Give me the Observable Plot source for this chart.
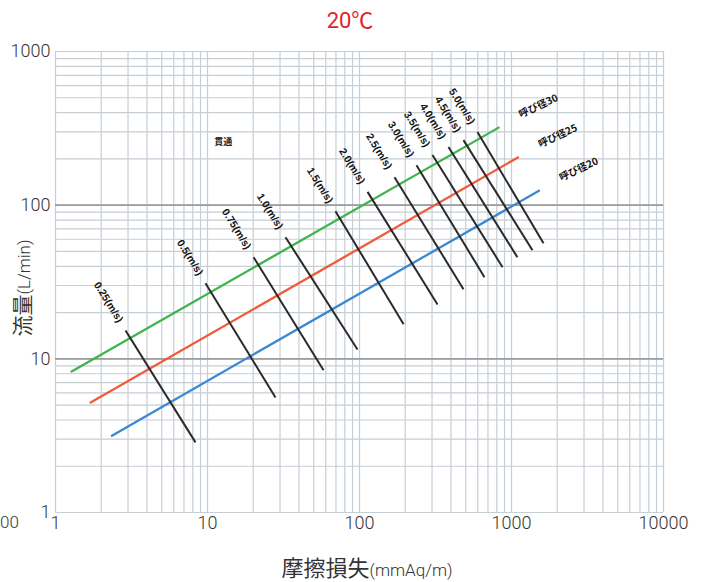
<!DOCTYPE html>
<html>
<head>
<meta charset="utf-8">
<script src="https://cdn.jsdelivr.net/npm/d3@7"></script>
<script src="https://cdn.jsdelivr.net/npm/@observablehq/plot@0.6"></script>
<style>
  body { margin: 0; background: #fff; }
  #chart { position: relative; width: 706px; height: 582px; overflow: hidden; }
</style>
</head>
<body>
<div id="chart"></div>
<script>
// Pipe sizes: flow (L/min) against friction loss (mmAq/m), at 20℃
const pipeNames  = ["呼び径30", "呼び径25", "呼び径20"];
const pipeColors = ["#3cb44b", "#f15a3a", "#3b87d3"];
const pipeLossStart = [1.26, 1.68, 2.32];
const pipeFlowStart = [8.2, 5.15, 3.14];
const pipeLossEnd   = [834, 1117, 1535];
const pipeFlowEnd   = [322, 206, 125];

// Constant-velocity lines
const velocityNames = ["0.25(m/s)", "0.5(m/s)", "0.75(m/s)", "1.0(m/s)", "1.5(m/s)", "2.0(m/s)",
                       "2.5(m/s)", "3.0(m/s)", "3.5(m/s)", "4.0(m/s)", "4.5(m/s)", "5.0(m/s)"];
const velLossTop    = [2.89, 9.7, 20.1, 32.6, 69.5, 113, 170, 237, 302, 385, 483, 597];
const velFlowTop    = [15.3, 31.0, 45.8, 61.9, 91.4, 122, 152, 182, 212, 239, 265, 299];
const velLossBottom = [8.34, 28.0, 58.0, 97.0, 195, 326, 483, 664, 873, 1094, 1374, 1624];
const velFlowBottom = [2.86, 5.61, 8.42, 11.5, 16.8, 22.6, 28.4, 34.0, 39.5, 45.8, 50.9, 56.5];

// Note inside the plot area
const noteText = ["貫通"];
const noteLoss = [12.7];
const noteFlow = [257];

// Axis ticks and log grid
const xTickValues = [1, 10, 100, 1000, 10000];
const yTickValues = [1, 10, 100, 1000];
const gridSteps = [1, 2, 3, 4, 5, 6, 7, 8, 9];
const xGrid = [1, 10, 100, 1000].flatMap(d => gridSteps.map(s => d * s)).concat([10000]);
const yGrid = [1, 10, 100].flatMap(d => gridSteps.map(s => d * s)).concat([1000]);
const yMajor = [10, 100];

const pipes = pipeNames.map((name, i) => ({
  name, color: pipeColors[i],
  x1: pipeLossStart[i], y1: pipeFlowStart[i], x2: pipeLossEnd[i], y2: pipeFlowEnd[i]
}));
const velocities = velocityNames.map((name, i) => ({
  name, x1: velLossTop[i], y1: velFlowTop[i], x2: velLossBottom[i], y2: velFlowBottom[i]
}));
const notes = noteText.map((text, i) => ({ text, x: noteLoss[i], y: noteFlow[i] }));

const chart = Plot.plot({
  width: 706,
  height: 582,
  marginLeft: 55,
  marginRight: 43,
  marginTop: 51,
  marginBottom: 70,
  style: { fontFamily: "Roboto, 'Liberation Sans', sans-serif", fontSize: "18px", color: "#333", background: "#fff" },
  x: { type: "log", domain: [1, 10000], ticks: xTickValues, tickFormat: d => String(d), tickSize: 0, tickPadding: 4, label: null },
  y: { type: "log", domain: [1, 1000], ticks: yTickValues, tickFormat: d => String(d), tickSize: 0, tickPadding: 5, label: null },
  marks: [
    Plot.ruleX(xGrid, { x: d => d, stroke: "#c6ced6", strokeWidth: 1.2 }),
    Plot.ruleY(yGrid, { y: d => d, stroke: "#c6ced6", strokeWidth: 1.2 }),
    Plot.ruleY(yMajor, { y: d => d, stroke: "#9a9c9e", strokeWidth: 1.6 }),
    Plot.link(pipes, { x1: "x1", y1: "y1", x2: "x2", y2: "y2", stroke: d => d.color, strokeWidth: 2.3 }),
    Plot.link(velocities, { x1: "x1", y1: "y1", x2: "x2", y2: "y2", stroke: "#2a2a2a", strokeWidth: 2 }),
    Plot.text(velocities, {
      x: "x1", y: "y1", text: "name", rotate: 58, textAnchor: "end",
      dx: -5, dy: -9, fontSize: 10.5, fontWeight: "bold", fill: "#111",
      fontFamily: "'Liberation Sans', Arial, sans-serif"
    }),
    Plot.text(pipes, {
      x: "x2", y: "y2", text: "name", rotate: -25, textAnchor: "start",
      dx: 20, dy: -12, fontSize: 10, fontWeight: "bold", fill: "#111",
      fontFamily: "'Noto Sans CJK JP', sans-serif"
    }),
    Plot.text(notes, {
      x: "x", y: "y", text: "text", fontSize: 9, fontWeight: "bold", fill: "#222",
      fontFamily: "'Noto Sans CJK JP', sans-serif"
    })
  ]
});

document.getElementById("chart").appendChild(chart);

const svg = d3.select(chart);
svg.selectAll("[aria-label='x-axis'] text, [aria-label='y-axis'] text, [aria-label='x-axis tick label'] text, [aria-label='y-axis tick label'] text")
  .style("font-weight", 300);

// Title
svg.append("text")
  .attr("x", 350).attr("y", 28)
  .attr("text-anchor", "middle")
  .attr("fill", "#e41e2b")
  .style("font-family", "Roboto, 'Noto Sans CJK JP', sans-serif")
  .style("font-size", "22px")
  .text("20℃");

// Stray tick text at the lower-left edge
svg.append("text")
  .attr("x", 0).attr("y", 528)
  .attr("text-anchor", "start")
  .attr("fill", "#333")
  .style("font-family", "Roboto, sans-serif")
  .style("font-size", "17px")
  .style("font-weight", 300)
  .text("00");

// X axis title
const xt = svg.append("text")
  .attr("x", 367).attr("y", 576)
  .attr("text-anchor", "middle")
  .attr("fill", "#333")
  .style("font-family", "'Noto Sans CJK JP', sans-serif");
xt.append("tspan").style("font-size", "22px").text("摩擦損失");
xt.append("tspan").style("font-size", "17px").style("font-family", "Roboto, sans-serif").style("font-weight", 300).text("(mmAq/m)");

// Y axis title
const yt = svg.append("text")
  .attr("transform", "translate(30,288) rotate(-90)")
  .attr("text-anchor", "middle")
  .attr("fill", "#333")
  .style("font-family", "'Noto Sans CJK JP', sans-serif");
yt.append("tspan").style("font-size", "21px").text("流量");
yt.append("tspan").style("font-size", "17px").style("font-family", "Roboto, sans-serif").style("font-weight", 300).text("(L/min)");
</script>
</body>
</html>
